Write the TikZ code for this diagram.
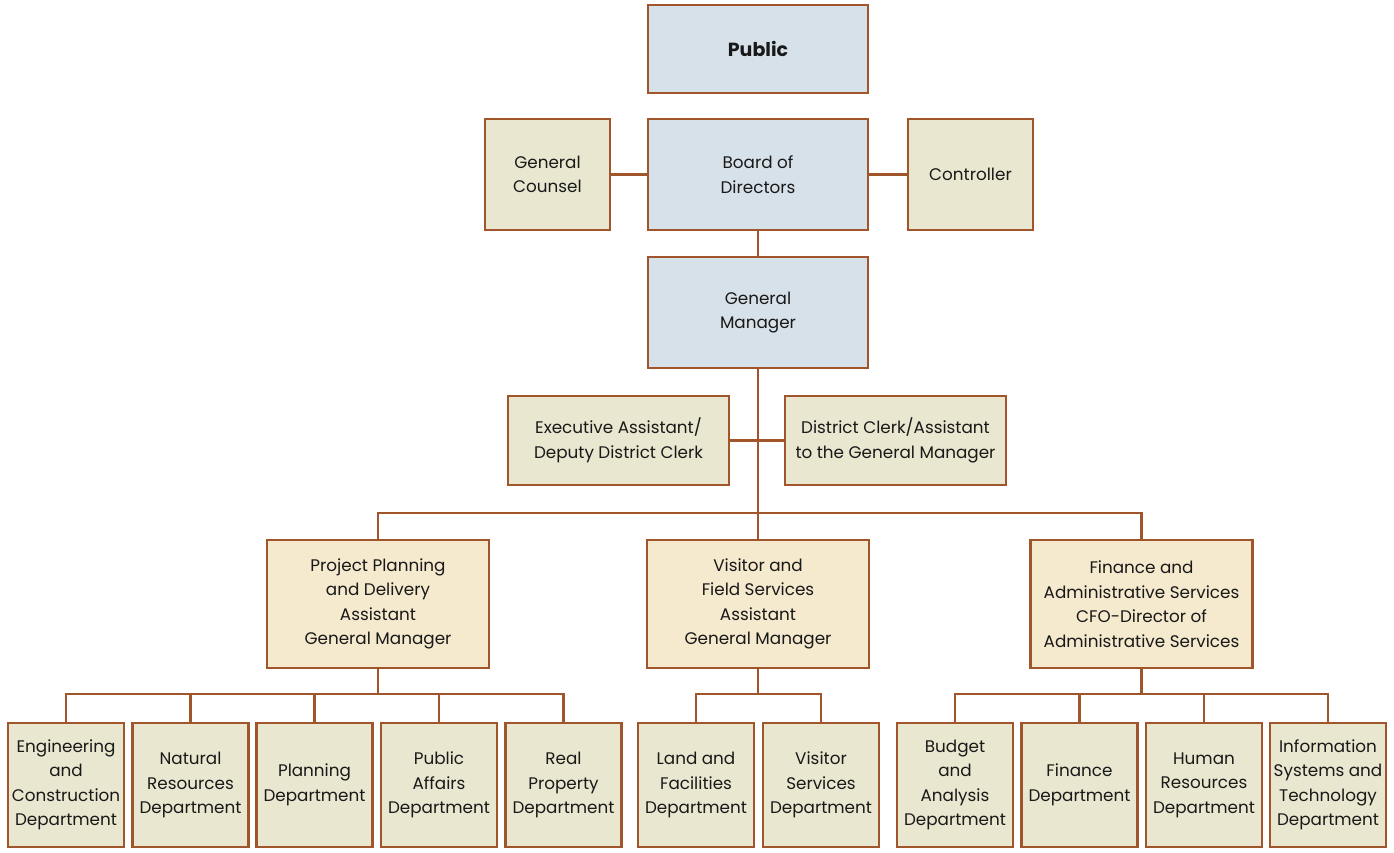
\documentclass[tikz,border=0pt]{standalone}
\usepackage{fontspec}
\setmainfont{Poppins}
\begin{document}
\begin{tikzpicture}[x=1pt,y=-1pt,
  brownline/.style={draw=orgbrown,line width=2.2pt},
  unit/.style={draw=orgbrown,line width=2.2pt,align=center,inner sep=0pt,
    font=\fontsize{16.8}{24.5}\selectfont,text=black!90},
  topbox/.style={unit,fill=topblue,minimum width=220pt,line width=2.8pt},
  staffbox/.style={unit,fill=khaki},
  agmbox/.style={unit,fill=tan,minimum width=222pt,minimum height=128pt},
  deptbox/.style={unit,fill=khaki,minimum width=116pt,minimum height=124pt},
  link/.style={brownline}]
\definecolor{orgbrown}{HTML}{A0562A}
\definecolor{topblue}{HTML}{D7E1E9}
\definecolor{khaki}{HTML}{E9E7CF}
\definecolor{tan}{HTML}{F5E9CE}
\useasboundingbox (0,0) rectangle (1394,852);

% top of the hierarchy
\node[topbox,minimum height=88pt,font=\fontsize{19}{24.5}\selectfont\bfseries] (public) at (758,49) {Public};
\node[topbox,minimum height=111pt] (board) at (758,174.5) {Board of\\Directors};
\node[staffbox,minimum width=125pt,minimum height=111pt] (counsel) at (547.5,174.5) {General\\Counsel};
\node[staffbox,minimum width=125pt,minimum height=111pt] (controller) at (970.5,174.5) {Controller};
\node[topbox,minimum height=111pt] (gm) at (758,312.5) {General\\Manager};

% staff to the general manager
\node[staffbox,minimum width=221pt,minimum height=89pt] (exec) at (618.5,440.5) {Executive Assistant/\\Deputy District Clerk};
\node[staffbox,minimum width=221pt,minimum height=89pt] (clerk) at (895.5,440.5) {District Clerk/Assistant\\to the General Manager};

% assistant general managers
\node[agmbox] (ppd) at (378,604) {Project Planning\\and Delivery\\Assistant\\General Manager};
\node[agmbox] (vfs) at (758,604) {Visitor and\\Field Services\\Assistant\\General Manager};
\node[agmbox] (fas) at (1141.5,604) {Finance and\\Administrative Services\\CFO-Director of\\Administrative Services};

% departments
\node[deptbox] (eng) at (66,785) {Engineering\\and\\Construction\\Department};
\node[deptbox] (nat) at (190.5,785) {Natural\\Resources\\Department};
\node[deptbox] (plan) at (314.5,785) {Planning\\Department};
\node[deptbox] (pub) at (439,785) {Public\\Affairs\\Department};
\node[deptbox] (real) at (563.5,785) {Real\\Property\\Department};
\node[deptbox] (land) at (696,785) {Land and\\Facilities\\Department};
\node[deptbox] (vis) at (821,785) {Visitor\\Services\\Department};
\node[deptbox] (bud) at (955,785) {Budget\\and\\Analysis\\Department};
\node[deptbox] (fin) at (1079.5,785) {Finance\\Department};
\node[deptbox] (hr) at (1204,785) {Human\\Resources\\Department};
\node[deptbox] (ist) at (1328,785) {Information\\Systems and\\Technology\\Department};

% connectors
\draw[link] (counsel) -- (board);
\draw[link] (board) -- (controller);
\draw[link] (board) -- (gm);
\draw[link] (exec) -- (clerk);
\coordinate (busTop) at (758,513);
\draw[link] (gm.south) -- (vfs.north);
\draw[link] (ppd.north) |- (busTop) -| (fas.north);

\coordinate (busA) at (378,694);
\draw[link] (ppd.south) -- (busA);
\foreach \d in {eng,nat,plan,pub,real}
  \draw[link] (\d.north) |- (busA);

\coordinate (busB) at (758,694);
\draw[link] (vfs.south) -- (busB);
\foreach \d in {land,vis}
  \draw[link] (\d.north) |- (busB);

\coordinate (busC) at (1141.5,694);
\draw[link] (fas.south) -- (busC);
\foreach \d in {bud,fin,hr,ist}
  \draw[link] (\d.north) |- (busC);
\end{tikzpicture}
\end{document}
